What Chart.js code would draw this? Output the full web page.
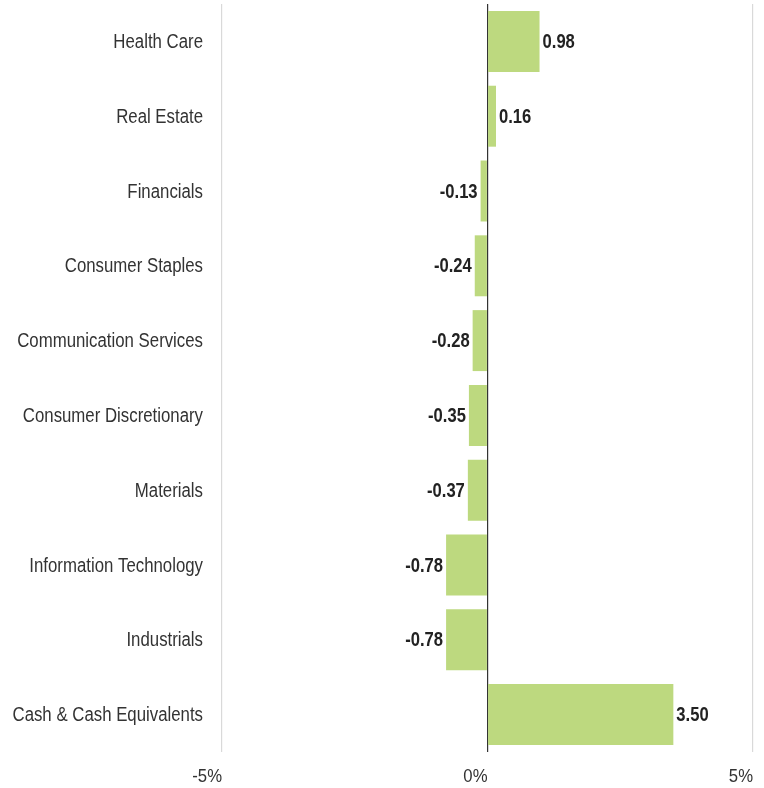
<!DOCTYPE html>
<html>
<head>
<meta charset="utf-8">
<script src="https://cdn.jsdelivr.net/npm/chart.js@4"></script>
<style>
  html,body{margin:0;padding:0;background:#fff;}
  #wrap{width:764px;height:788px;}
</style>
</head>
<body>
<div id="wrap"><canvas id="c"></canvas></div>
<script>
// ---------- data ----------
const sectors = ['Health Care','Real Estate','Financials','Consumer Staples','Communication Services',
  'Consumer Discretionary','Materials','Information Technology','Industrials','Cash & Cash Equivalents'];
const values = [0.98, 0.16, -0.13, -0.24, -0.28, -0.35, -0.37, -0.78, -0.78, 3.50];
const xTicks = [-5, 0, 5];

const FONT = '"Liberation Sans", Arial, sans-serif';

// no narrow font installed -> squeeze Liberation Sans horizontally
function narrowText(ctx, txt, x, y, align, sq){
  ctx.save();
  ctx.translate(x, y);
  ctx.scale(sq, 1);
  ctx.textAlign = align;
  ctx.fillText(txt, 0, 0);
  ctx.restore();
}

// category labels, x tick labels and value labels, all placed through the scales
const textLayer = {
  id: 'textLayer',
  afterDatasetsDraw(chart){
    const ctx = chart.ctx, xs = chart.scales.x, ys = chart.scales.y;
    ctx.save();
    ctx.textBaseline = 'middle';
    ctx.fillStyle = '#333';

    ctx.font = '20px ' + FONT;
    sectors.forEach((s, i) => narrowText(ctx, s, xs.left - 19, ys.getPixelForTick(i) + 1, 'right', 0.84));

    ctx.font = '19px ' + FONT;
    xTicks.forEach(v => narrowText(ctx, v + '%', xs.getPixelForValue(v), 777, 'right', 0.88));

    ctx.font = 'bold 20px ' + FONT;
    ctx.fillStyle = '#222';
    chart.getDatasetMeta(0).data.forEach((bar, i) => {
      const v = values[i];
      if (v >= 0) narrowText(ctx, v.toFixed(2), bar.x + 3, bar.y + 1, 'left', 0.83);
      else narrowText(ctx, v.toFixed(2), bar.x - 3, bar.y + 1, 'right', 0.83);
    });
    ctx.restore();
  }
};

new Chart(document.getElementById('c'), {
  type: 'bar',
  data: { labels: sectors, datasets: [{ data: values, backgroundColor: '#bdd97f',
    barPercentage: 0.815, categoryPercentage: 1 }] },
  plugins: [textLayer],
  options: {
    indexAxis: 'y',
    responsive: true, maintainAspectRatio: false, animation: false,
    layout: { padding: { top: 4, right: 11, bottom: 0, left: 0 } },
    plugins: { legend: { display: false }, tooltip: { enabled: false } },
    scales: {
      x: {
        min: -5, max: 5,
        afterBuildTicks: s => { s.ticks = xTicks.map(v => ({ value: v })); },
        afterFit: s => { s.height = 36; },
        border: { display: false },
        grid: { drawTicks: false, lineWidth: 1.2,
          color: c => c.tick && c.tick.value === 0 ? '#333' : '#d9d9d9' },
        ticks: { display: false }
      },
      y: {
        afterFit: s => { s.width = 222; },
        border: { display: false },
        grid: { display: false, drawTicks: false },
        ticks: { display: false }
      }
    }
  }
});
</script>
</body>
</html>
